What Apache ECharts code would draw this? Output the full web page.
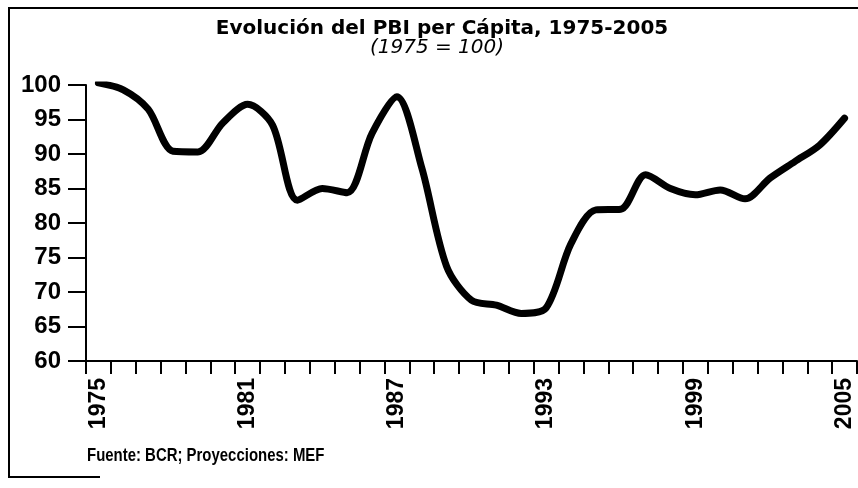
<!DOCTYPE html>
<html>
<head>
<meta charset="utf-8">
<title>Evolución del PBI per Cápita</title>
<script src="https://cdn.jsdelivr.net/npm/echarts@6/dist/echarts.min.js"></script>
<style>
  html, body { margin: 0; padding: 0; background: #fff; }
  #chart { width: 858px; height: 488px; }
</style>
</head>
<body>
<div id="chart"></div>
<script>
// años 1975-2005
const years = ['1975', '1976', '1977', '1978', '1979', '1980', '1981', '1982', '1983', '1984',
    '1985', '1986', '1987', '1988', '1989', '1990', '1991', '1992', '1993', '1994',
    '1995', '1996', '1997', '1998', '1999', '2000', '2001', '2002', '2003', '2004', '2005']
// índice 1975 = 100
const pbiPerCapita = [100.3, 99.3, 96.5, 90.4, 90.3, 94.5, 97.2, 94.2, 83.3, 85.0,
    84.4, 93, 98.3, 88, 73.7, 68.8, 68.1, 66.9, 67.7, 77,
    81.9, 82, 87, 85, 84.1, 84.8, 83.5, 86.5, 88.9, 91.3, 95.2]
// etiquetas visibles del eje x
const shownYears = ['1975', '1981', '1987', '1993', '1999', '2005']

const titleText = 'Evolución del PBI per Cápita, 1975-2005'
const subtitleText = '(1975 = 100)'
const sourceText = 'Fuente: BCR; Proyecciones: MEF'

const chart = echarts.init(document.getElementById('chart'))

const option = {
    animation: false,
    backgroundColor: '#fff',
    title: [
        {
            text: titleText,
            left: 437,
            top: 14,
            textAlign: 'center',
            textStyle: { fontFamily: 'DejaVu Sans', fontWeight: 'bold', fontSize: 20, color: '#000' }
        },
        {
            text: subtitleText,
            left: 432,
            top: 33,
            textAlign: 'center',
            textStyle: { fontFamily: 'DejaVu Sans', fontStyle: 'italic', fontWeight: 'normal', fontSize: 20, color: '#000' }
        }
    ],
    graphic: [
        {
            type: 'polyline',
            shape: { points: [[100, 477], [9, 477], [9, 8], [858, 8]] },
            style: { stroke: '#000', lineWidth: 2, fill: null }
        },
        {
            // texto de la fuente, algo angosto como en el original
            type: 'text',
            x: 87,
            y: 447,
            scaleX: 0.83,
            style: {
                text: sourceText,
                fill: '#000',
                fontFamily: 'Liberation Sans',
                fontWeight: 'bold',
                fontSize: 18,
                verticalAlign: 'top'
            }
        }
    ],
    grid: { left: 86, right: 1, top: 85, bottom: 127 },
    xAxis: {
        type: 'category',
        data: years,
        boundaryGap: true,
        axisLine: { show: true, lineStyle: { color: '#000', width: 2 } },
        axisTick: { show: true, interval: 0, length: 13, lineStyle: { color: '#000', width: 2 } },
        axisLabel: {
            rotate: 90,
            margin: 17,
            interval: 0,
            color: '#000',
            fontFamily: 'Liberation Sans',
            fontWeight: 'bold',
            fontSize: 23,
            formatter: (v) => shownYears.includes(v) ? v : ''
        },
        splitLine: { show: false }
    },
    yAxis: {
        type: 'value',
        min: 60,
        max: 100,
        interval: 5,
        axisLine: { show: true, lineStyle: { color: '#000', width: 2 } },
        axisTick: { show: true, length: 18, lineStyle: { color: '#000', width: 2 } },
        axisLabel: {
            margin: 25,
            color: '#000',
            fontFamily: 'Liberation Sans',
            fontWeight: 'bold',
            fontSize: 24
        },
        splitLine: { show: false }
    },
    series: [
        {
            type: 'line',
            data: pbiPerCapita,
            smooth: 0.3,
            showSymbol: false,
            symbol: 'none',
            lineStyle: { color: '#000', width: 7, cap: 'round', join: 'round' }
        }
    ]
}

chart.setOption(option)
window.addEventListener('resize', () => chart.resize())
</script>
</body>
</html>
